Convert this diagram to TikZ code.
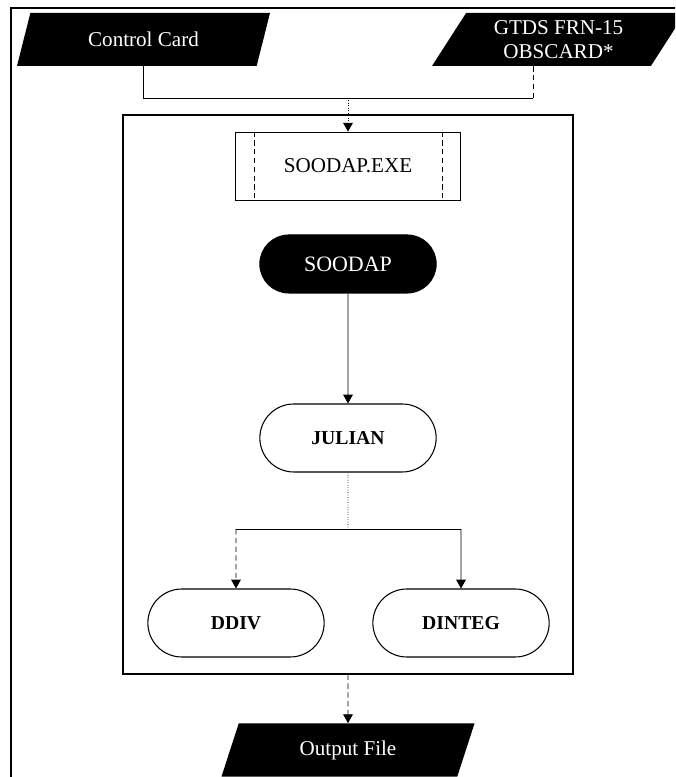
\documentclass[tikz,border=0pt]{standalone}
\usepackage{fontspec}
\setmainfont{Liberation Serif}
\usetikzlibrary{shapes.geometric, shapes.misc, arrows.meta, positioning, calc}

\tikzset{
  datafile/.style={trapezium, trapezium left angle=48, trapezium right angle=132,
    trapezium stretches body, fill=black, text=white, minimum width=5.06cm,
    minimum height=1.06cm, inner sep=0pt, font=\fontsize{12}{13.5}\selectfont, align=center},
  routine/.style={rounded rectangle, draw, semithick, minimum width=3.76cm,
    minimum height=1.36cm, font=\fontsize{11.2}{13}\selectfont\bfseries},
  flow/.style={-{Triangle[length=5pt,width=5.5pt]}},
}

\begin{document}
\begin{tikzpicture}
    \clip (0,0) rectangle (13.5,15.54);

    % Page frame (left and top edges only)
    \draw[line width=1.6pt] (0.22,0) -- (0.22,15.38) -- (13.6,15.38);

    % Input files
    \node[datafile] (card) at (2.87,14.75) {Control Card};
    \node[datafile] (obs) at (11.17,14.75) {GTDS FRN-15\\OBSCARD*};

    % Program box
    \node[draw, thick, minimum width=9cm, minimum height=11.18cm, inner sep=0pt] (prog) at (6.96,7.65) {};
    \node[draw, thin, minimum width=4.5cm, minimum height=1.36cm, font=\large] (exe) at (6.96,12.22) {SOODAP.EXE};
    \draw[densely dashed, very thin] ($(exe.north west)+(0.38,0)$) -- ($(exe.south west)+(0.38,0)$);
    \draw[densely dashed, very thin] ($(exe.north east)+(-0.38,0)$) -- ($(exe.south east)+(-0.38,0)$);

    % Routines
    \node[routine, fill=black, text=white, font=\fontsize{12.5}{14}\selectfont, minimum height=1.16cm] (main) at (6.96,10.26) {SOODAP};
    \node[routine] (julian) at (6.96,6.78) {JULIAN};
    \node[routine] (ddiv) at (4.72,3.08) {DDIV};
    \node[routine] (dinteg) at (9.22,3.08) {DINTEG};

    % Output file
    \node[datafile] (out) at (6.96,0.54) {Output File};

    % Inputs join and go into the executable
    \coordinate (merge) at (6.96,13.58);
    \coordinate (obsfoot) at (10.66,13.58);
    \draw[thin] (card.south) |- (obsfoot);
    \draw[thin, densely dashed] (obsfoot) -- (obsfoot |- obs.south);
    \draw[thin, flow, densely dotted] (merge) -- (exe);

    % Calls
    \draw[thin, flow] (main) -- (julian);
    \coordinate (split) at (6.96,4.96);
    \draw[thin, densely dotted] (julian) -- (split);
    \draw[thin] (ddiv |- split) -- (dinteg |- split);
    \draw[thin, flow, densely dashed] (ddiv |- split) -- (ddiv);
    \draw[thin, flow] (dinteg |- split) -- (dinteg);

    % Result
    \draw[thin, flow, densely dashed] (prog.south) -- (out);

\end{tikzpicture}
\end{document}
